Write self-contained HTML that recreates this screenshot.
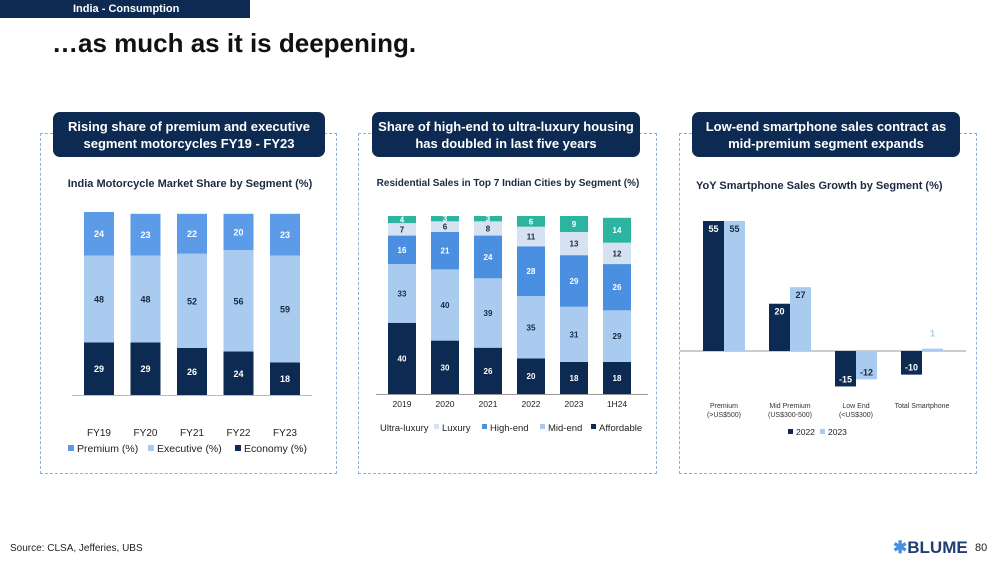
<!DOCTYPE html>
<html><head><meta charset="utf-8">
<style>
body{margin:0;width:1000px;height:563px;background:#fff;position:relative;overflow:hidden;font-family:"Liberation Sans",sans-serif;}
.abs{position:absolute;}
.hdr{background:#0d2b52;color:#fff;border-radius:7px;font-weight:bold;font-size:13px;text-align:center;line-height:17px;display:flex;align-items:center;justify-content:center;}
.panel{border:1.5px dashed #8fb0d8;}
</style></head><body>
<div class="abs" style="left:0;top:0;width:250px;height:18px;background:#0d2b52;color:#fff;font-size:11px;font-weight:bold;line-height:18px;"><span style="margin-left:73px">India - Consumption</span></div>
<div class="abs" style="left:52px;top:28px;font-size:26px;font-weight:bold;color:#111;">…as much as it is deepening.</div>

<div class="abs panel" style="left:40px;top:133px;width:295px;height:339px;"></div>
<div class="abs panel" style="left:358px;top:133px;width:297px;height:339px;"></div>
<div class="abs panel" style="left:679px;top:133px;width:296px;height:339px;"></div>

<div class="abs hdr" style="left:53px;top:112px;width:272px;height:45px;">Rising share of premium and executive<br>segment motorcycles FY19 - FY23</div>
<div class="abs hdr" style="left:372px;top:112px;width:268px;height:45px;">Share of high-end to ultra-luxury housing<br>has doubled in last five years</div>
<div class="abs hdr" style="left:692px;top:112px;width:268px;height:45px;">Low-end smartphone sales contract as<br>mid-premium segment expands</div>

<svg class="abs" style="left:0;top:0" width="1000" height="563" id="svg" font-family="Liberation Sans, sans-serif">
<text x="190" y="187" text-anchor="middle" font-size="11" font-weight="bold" fill="#1a2a40">India Motorcycle Market Share by Segment (%)</text>
<text x="508" y="186" text-anchor="middle" font-size="10" font-weight="bold" fill="#1a2a40">Residential Sales in Top 7 Indian Cities by Segment (%)</text>
<text x="696" y="189" font-size="11" font-weight="bold" fill="#1a2a40">YoY Smartphone Sales Growth by Segment  (%)</text>
<g id="c1"></g><g id="c2"></g><g id="c3"></g>
</svg>

<div class="abs" style="left:10px;top:543px;font-size:10px;color:#222;">Source: CLSA, Jefferies, UBS</div>
<div class="abs" style="left:893px;top:538px;font-size:17px;font-weight:bold;color:#1f3f73;"><span style="color:#4a8fe0">✱</span>BLUME</div>
<div class="abs" style="left:975px;top:542px;font-size:11px;color:#222;">80</div>

<script>
const NS='http://www.w3.org/2000/svg';
// Chart 1 data
const c1Cats=['FY19','FY20','FY21','FY22','FY23'];
const c1Economy=[29,29,26,24,18];
const c1Executive=[48,48,52,56,59];
const c1Premium=[24,23,22,20,23];
// Chart 2 data
const c2Cats=['2019','2020','2021','2022','2023','1H24'];
const c2Affordable=[40,30,26,20,18,18];
const c2Mid=[33,40,39,35,31,29];
const c2High=[16,21,24,28,29,26];
const c2Luxury=[7,6,8,11,13,12];
const c2Ultra=[4,3,3,6,9,14];
// Chart 3 data
const c3Cats=[['Premium','(>US$500)'],['Mid Premium','(US$300-500)'],['Low End','(<US$300)'],['Total Smartphone']];
const c3Y2022=[55,20,-15,-10];
const c3Y2023=[55,27,-12,1];

function el(tag,attrs,parent,text){const e=document.createElementNS(NS,tag);for(const k in attrs)e.setAttribute(k,attrs[k]);if(text!==undefined)e.textContent=text;parent.appendChild(e);return e;}

// chart 1
(function(){
const g=document.getElementById('c1');
const base=395,scale=183/101,x0=99,step=46.5,w=30;
const xc=i=>x0+i*step;const h=v=>v*scale;
const series=[[c1Economy,'#0d2b52','#fff','economy'],[c1Executive,'#a9cbf0','#1a2a40','executive'],[c1Premium,'#5b9be8','#fff','premium']];
c1Cats.forEach((c,i)=>{let y=base;series.forEach(([arr,col,tc,nm])=>{const hh=h(arr[i]);y-=hh;
const r=el('rect',{x:xc(i)-w/2,y:y,width:w,height:hh,fill:col},g);


el('text',{x:xc(i),y:y+hh/2+3.5,'text-anchor':'middle','font-size':9,'font-weight':'bold',fill:tc},g,arr[i]);});
const t=el('text',{x:xc(i),y:436,'text-anchor':'middle','font-size':10,fill:'#222'},g,c);
});
el('line',{x1:72,x2:312,y1:base+.5,y2:base+.5,stroke:'#bbb'},g);
const leg=[['Premium (%)','#5b9be8',68],['Executive (%)','#a9cbf0',148],['Economy (%)','#0d2b52',235]];
leg.forEach(([t,c,x])=>{const r=el('rect',{x:x,y:445,width:6,height:6,fill:c},g);el('text',{x:x+9,y:452,'font-size':10.5,fill:'#222'},g,t);});
})();

// chart 2
(function(){
const g=document.getElementById('c2');
const base=394,scale=178/100,x0=402,step=43,w=28;
const xc=i=>x0+i*step;const h=v=>v*scale;
const series=[[c2Affordable,'#0d2b52','#fff','affordable'],[c2Mid,'#a9cbf0','#1a2a40','mid-end'],[c2High,'#4a8fe0','#fff','high-end'],[c2Luxury,'#d6e2f2','#1a2a40','luxury'],[c2Ultra,'#2bb5a0','#fff','ultra-luxury']];
c2Cats.forEach((c,i)=>{let y=base;series.forEach(([arr,col,tc,nm])=>{const hh=h(arr[i]);y-=hh;
const r=el('rect',{x:xc(i)-w/2,y:y,width:w,height:hh,fill:col},g);


el('text',{x:xc(i),y:y+hh/2+3,'text-anchor':'middle','font-size':8,'font-weight':'bold',fill:tc},g,arr[i]);});
const t=el('text',{x:xc(i),y:407,'text-anchor':'middle','font-size':8.5,fill:'#222'},g,c);
});
el('line',{x1:376,x2:648,y1:base+.5,y2:base+.5,stroke:'#999'},g);
const leg=[['Ultra-luxury',null,380],['Luxury','#d6e2f2',434],['High-end','#4a8fe0',482],['Mid-end','#a9cbf0',540],['Affordable','#0d2b52',591]];
leg.forEach(([t,c,x])=>{let tx=x;if(c){const r=el('rect',{x:x,y:424,width:5,height:5,fill:c},g);tx=x+8;}el('text',{x:tx,y:431,'font-size':9.5,fill:'#222'},g,t);});
})();

// chart 3
(function(){
const g=document.getElementById('c3');
const zero=351,scale=130/55,x0=724,step=66,bw=21;
const xc=i=>x0+i*step;const y=v=>zero-v*scale;
el('line',{x1:680,x2:966,y1:zero,y2:zero,stroke:'#999'},g);
const series=[[c3Y2022,'#0d2b52','#fff',-bw,'2022'],[c3Y2023,'#a9cbf0','#1a2a40',0,'2023']];
c3Cats.forEach((c,i)=>{series.forEach(([arr,col,tc,off,nm])=>{const v=arr[i];const top=Math.min(y(v),zero);const hh=Math.max(Math.abs(v*scale),1.5);
const r=el('rect',{x:xc(i)+off,y:v>=0?zero-hh:zero,width:bw,height:hh,fill:col},g);


let ty;let fill=tc;
if(Math.abs(v)<3){ty=y(v)-12;fill='#a9cbf0';}else if(v>=0)ty=top+11;else ty=y(v)-4;
el('text',{x:xc(i)+off+bw/2,y:ty,'text-anchor':'middle','font-size':9,'font-weight':'bold',fill:fill},g,v);});
c.forEach((ln,k)=>{const t=el('text',{x:xc(i),y:408+k*9,'text-anchor':'middle','font-size':7,fill:'#333'},g,ln);});});
[['2022','#0d2b52',788],['2023','#a9cbf0',820]].forEach(([t,c,x])=>{const r=el('rect',{x:x,y:429,width:5,height:5,fill:c},g);el('text',{x:x+8,y:435,'font-size':8.5,fill:'#222'},g,t);});
})();
</script>
</body></html>
